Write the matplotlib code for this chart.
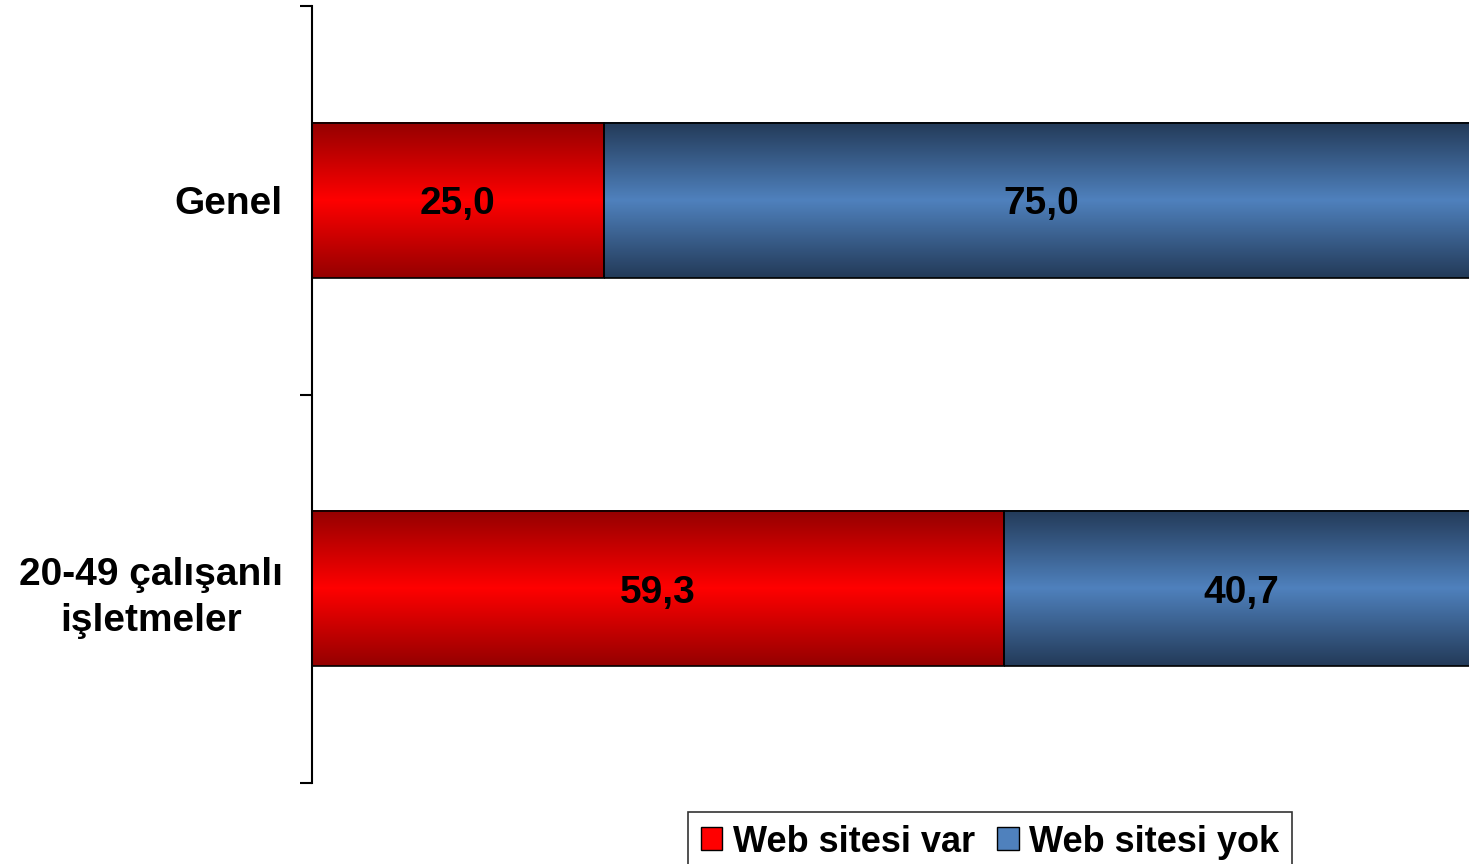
import numpy as np
import matplotlib.pyplot as plt
from matplotlib.patches import Patch

plt.rcParams['font.family'] = ['Liberation Sans', 'DejaVu Sans']

categories = ['Genel', '20-49 çalışanlı\nişletmeler']
web_var = [25.0, 59.3]
web_yok = [75.0, 40.7]
series_names = ['Web sitesi var', 'Web sitesi yok']

y_pos = [1.5, 0.5]
bar_h = 0.4

red_cmap = plt.matplotlib.colors.LinearSegmentedColormap.from_list(
    'red_grad', ['#940000', '#ff0000', '#940000'])
blue_cmap = plt.matplotlib.colors.LinearSegmentedColormap.from_list(
    'blue_grad', ['#233a58', '#4f81bd', '#233a58'])


def gradient_bar(ax, left, width, y, h, cmap):
    grad = np.linspace(0, 1, 256).reshape(-1, 1)
    ax.imshow(grad, cmap=cmap, aspect='auto', interpolation='bicubic',
              extent=(left, left + width, y - h / 2, y + h / 2), zorder=2)
    ax.barh(y, width, height=h, left=left, facecolor='none',
            edgecolor='black', linewidth=1.2, zorder=3)


fig = plt.figure(figsize=(14.69, 8.64), dpi=100)
# plot area runs a little past the right edge of the picture (cropped chart)
ax = fig.add_axes([312 / 1469, 1 - 783 / 864, 1167 / 1469, 777 / 864])

for i, y in enumerate(y_pos):
    gradient_bar(ax, 0, web_var[i], y, bar_h, red_cmap)
    gradient_bar(ax, web_var[i], web_yok[i], y, bar_h, blue_cmap)
    ax.text(web_var[i] / 2, y, f"{web_var[i]:.1f}".replace('.', ','),
            ha='center', va='center_baseline', fontsize=28, fontweight='bold', zorder=4)
    ax.text(web_var[i] + web_yok[i] / 2, y, f"{web_yok[i]:.1f}".replace('.', ','),
            ha='center', va='center_baseline', fontsize=28, fontweight='bold', zorder=4)

ax.set_xlim(0, 100)
ax.set_ylim(0, 2)
for s in ['top', 'right', 'bottom']:
    ax.spines[s].set_visible(False)
ax.spines['left'].set_linewidth(1.5)
ax.xaxis.set_visible(False)

ax.set_yticks([0, 1, 2])
ax.set_yticklabels([])
ax.tick_params(axis='y', which='major', length=9, width=1.5)
ax.set_yticks(y_pos, minor=True)
ax.set_yticklabels(categories, minor=True, fontsize=28, fontweight='bold',
                   multialignment='center', linespacing=1.35)
ax.tick_params(axis='y', which='minor', length=0, pad=21)

handles = [Patch(facecolor='#ff0000', edgecolor='black', label=series_names[0]),
           Patch(facecolor='#4f81bd', edgecolor='black', label=series_names[1])]
leg = fig.legend(handles=handles, loc='upper left', ncol=2,
                 bbox_to_anchor=(688 / 1469, 1 - 812 / 864),
                 prop={'size': 26, 'weight': 'bold'}, frameon=True, fancybox=False,
                 borderpad=0.35, handlelength=0.6, handleheight=0.6,
                 handletextpad=0.3, columnspacing=0.6, borderaxespad=0)
leg.get_frame().set_edgecolor('black')
leg.get_frame().set_linewidth(1.2)

fig.savefig('out.png', dpi=100)
